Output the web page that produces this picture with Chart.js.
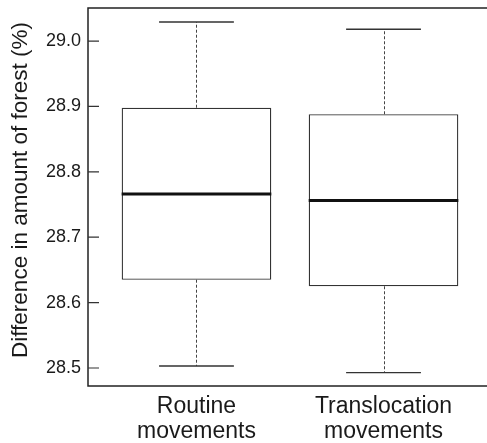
<!DOCTYPE html>
<html>
<head>
<meta charset="utf-8">
<script src="https://cdn.jsdelivr.net/npm/chart.js@4/dist/chart.umd.min.js"></script>
<style>
  html, body { margin: 0; padding: 0; overflow: hidden; background: #fff; }
  #wrap { width: 492px; height: 443px; position: relative; }
</style>
</head>
<body>
<div id="wrap"><canvas id="c"></canvas></div>
<script>
// ---- data ----
const categories = [["Routine", "movements"], ["Translocation", "movements"]];
const positions = [1, 2];
const lowerWhisker = [28.503, 28.493];
const q1 = [28.635, 28.625];
const median = [28.766, 28.756];
const q3 = [28.898, 28.888];
const upperWhisker = [29.029, 29.018];
const yTicks = [28.5, 28.6, 28.7, 28.8, 28.9, 29.0];
const yTitle = "Difference in amount of forest (%)";

const boxData = positions.map((p, i) => ({ x: p, y: [q1[i], q3[i]] }));
const FONT = 'Liberation Sans, Arial, sans-serif';

const boxPlugin = {
  id: 'boxExtras',
  afterDatasetsDraw(chart) {
    const ctx = chart.ctx;
    const ys = chart.scales.y;
    const meta = chart.getDatasetMeta(0);
    meta.data.forEach((el, i) => {
      const x = el.x, w = el.width;
      const px = v => ys.getPixelForValue(v);
      ctx.save();
      ctx.strokeStyle = '#444';
      ctx.lineWidth = 1;
      ctx.setLineDash([3, 2]);
      ctx.beginPath();
      ctx.moveTo(Math.round(x) + 0.5, px(q3[i]));
      ctx.lineTo(Math.round(x) + 0.5, px(upperWhisker[i]));
      ctx.moveTo(Math.round(x) + 0.5, px(q1[i]));
      ctx.lineTo(Math.round(x) + 0.5, px(lowerWhisker[i]));
      ctx.stroke();
      ctx.setLineDash([]);
      ctx.lineWidth = 1.4;
      ctx.strokeStyle = '#333';
      ctx.beginPath();
      ctx.moveTo(x - w / 4, px(upperWhisker[i]));
      ctx.lineTo(x + w / 4, px(upperWhisker[i]));
      ctx.moveTo(x - w / 4, px(lowerWhisker[i]));
      ctx.lineTo(x + w / 4, px(lowerWhisker[i]));
      ctx.stroke();
      ctx.lineWidth = 3;
      ctx.strokeStyle = '#111';
      ctx.beginPath();
      ctx.moveTo(x - w / 2, px(median[i]));
      ctx.lineTo(x + w / 2, px(median[i]));
      ctx.stroke();
      ctx.restore();
    });
  },
  afterDraw(chart) {
    const ctx = chart.ctx;
    const a = chart.chartArea;
    const ys = chart.scales.y;
    ctx.save();
    ctx.strokeStyle = '#222';
    ctx.lineWidth = 1.5;
    ctx.strokeRect(a.left, a.top, a.right - a.left, a.bottom - a.top);
    ctx.lineWidth = 1.2;
    ctx.strokeStyle = '#333';
    ctx.beginPath();
    ys.ticks.forEach(t => {
      const y = ys.getPixelForValue(t.value);
      ctx.moveTo(a.left, y);
      ctx.lineTo(a.left + 11, y);
    });
    ctx.stroke();
    // y axis title
    ctx.translate(21, 190);
    ctx.rotate(-Math.PI / 2);
    ctx.fillStyle = '#1a1a1a';
    ctx.font = '22.5px ' + FONT;
    ctx.textAlign = 'center';
    ctx.textBaseline = 'middle';
    ctx.fillText(yTitle, 0, 0);
    ctx.restore();
  }
};

new Chart(document.getElementById('c'), {
  type: 'bar',
  data: {
    datasets: [{
      data: boxData,
      backgroundColor: '#ffffff',
      borderColor: '#333',
      borderWidth: 1.3,
      borderSkipped: false,
      categoryPercentage: 1.0,
      barPercentage: 0.8
    }]
  },
  options: {
    responsive: true,
    maintainAspectRatio: false,
    animation: false,
    layout: { padding: { top: 8, right: 0, left: 0, bottom: 0 } },
    plugins: { legend: { display: false }, tooltip: { enabled: false } },
    scales: {
      x: {
        type: 'linear',
        min: 0.42,
        max: 2.58,
        offset: false,
        grid: { display: false, drawTicks: false },
        border: { display: false },
        afterBuildTicks(scale) { scale.ticks = positions.map(v => ({ value: v })); },
        afterFit(scale) { scale.height = 57; scale.paddingLeft = 0; scale.paddingRight = 0; },
        ticks: {
          autoSkip: false,
          maxRotation: 0,
          padding: 8,
          color: '#1a1a1a',
          font: { family: FONT, size: 23, lineHeight: 1.1 },
          callback: (v) => categories[positions.indexOf(v)] || ''
        }
      },
      y: {
        type: 'linear',
        min: 28.4725,
        max: 29.0505,
        grid: { display: false, drawTicks: false },
        border: { display: false },
        afterBuildTicks(scale) { scale.ticks = yTicks.map(v => ({ value: v })); },
        afterFit(scale) { scale.width = 88; scale.paddingTop = 0; scale.paddingBottom = 0; },
        ticks: {
          padding: 7,
          color: '#1a1a1a',
          font: { family: FONT, size: 18 },
          callback: (v) => Number(v).toFixed(1)
        },
        title: { display: false }
      }
    }
  },
  plugins: [boxPlugin]
});
</script>
</body>
</html>
